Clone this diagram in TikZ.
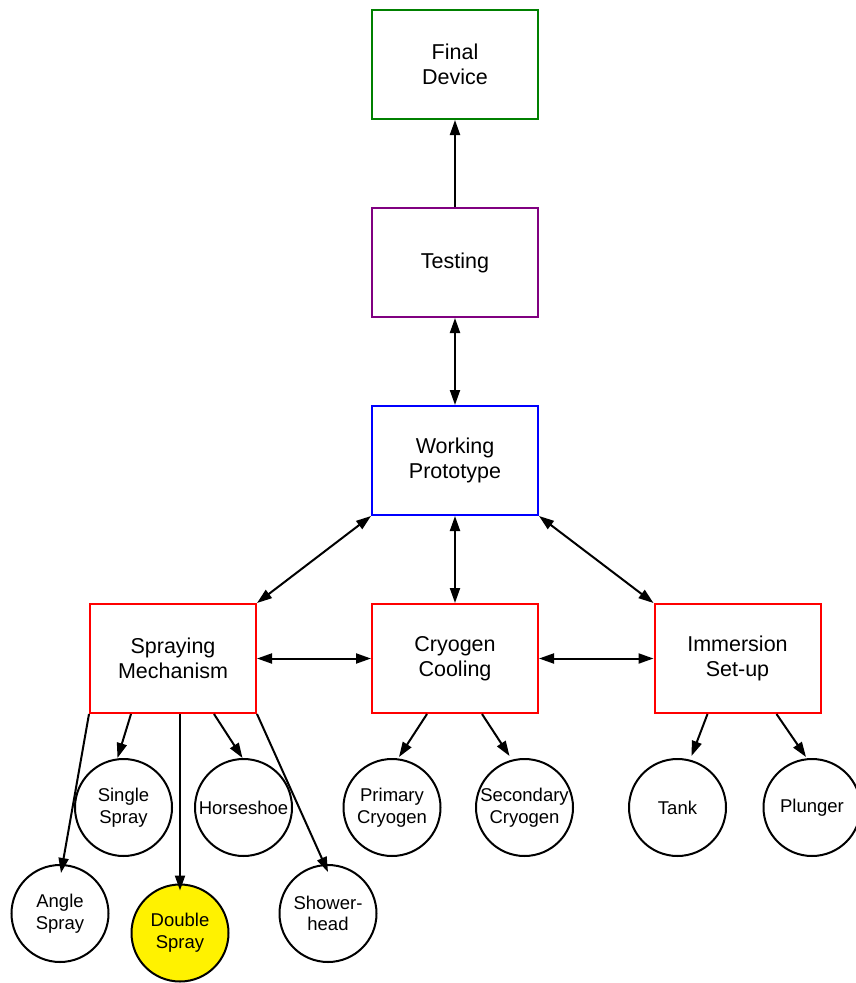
\documentclass[tikz,border=0pt]{standalone}
\usepackage{fontspec}
\setmainfont{Liberation Sans}
\usetikzlibrary{arrows.meta}
\definecolor{dgreen}{RGB}{0,128,0}
\definecolor{dpurple}{RGB}{128,0,128}
\begin{document}
\begin{tikzpicture}[x=1pt,y=-1pt,
  box/.style={rectangle, draw, line width=2pt, minimum width=166pt, minimum height=109pt, inner sep=0pt, align=center, font=\fontsize{21.5}{25.5}\selectfont},
  leaf/.style={circle, draw=black, line width=2pt, minimum size=97pt, inner sep=0pt, align=center, font=\fontsize{18.5}{21.7}\selectfont},
  conn/.style={line width=2pt, -{Triangle[length=15pt,width=10pt]}},
  dconn/.style={line width=2pt, {Triangle[length=15pt,width=10pt]}-{Triangle[length=15pt,width=10pt]}}]
\path[use as bounding box] (0,0) rectangle (856,983);
\begin{scope}
\clip (0,0) rectangle (856,983);
\node[box, draw=dgreen] (final) at (455,64.5) {Final\\Device};
\node[box, draw=dpurple] (test) at (455,262.5) {Testing};
\node[box, draw=blue] (wp) at (455,460.5) {Working\\Prototype};
\node[box, draw=red] (spr) at (173,658.5) {Spraying\\Mechanism};
\node[box, draw=red] (cry) at (455,658.5) {Cryogen\\Cooling};
\node[box, draw=red] (imm) at (737.5,658.5) {Immersion\\Set-up};

\node[leaf] (single) at (123.5,807.5) {Single\\Spray};
\node[leaf] (horse) at (243.5,807.5) {Horseshoe};
\node[leaf] (angle) at (60,913.5) {Angle\\Spray};
\node[leaf, fill=yellow] (dbl) at (180,933) {Double\\Spray};
\node[leaf] (shower) at (328,913.5) {Shower-\\head};
\node[leaf] (prim) at (392,807.5) {Primary\\Cryogen};
\node[leaf] (sec) at (524.5,807.5) {Secondary\\Cryogen};
\node[leaf] (tank) at (677.5,807.5) {Tank};
\node[leaf] (plunger) at (812,807.5) {Plunger};

\draw[conn] (test.north) -- (final.south);
\draw[dconn] (wp.north) -- (test.south);
\draw[dconn] (wp.south west) -- (spr.north east);
\draw[dconn] (wp.south) -- (cry.north);
\draw[dconn] (wp.south east) -- (imm.north west);
\draw[dconn] (spr.east) -- (cry.west);
\draw[dconn] (cry.east) -- (imm.west);

\draw[conn] (spr.south west) -- ([xshift=1pt,yshift=-9pt]angle.north);
\draw[conn] ([xshift=42pt]spr.south west) -- ([xshift=-6pt]single.north);
\draw[conn] ([xshift=91pt]spr.south west) -- ([yshift=-7pt]dbl.north);
\draw[conn] ([xshift=125pt]spr.south west) -- ([xshift=-1pt]horse.north);
\draw[conn] (spr.south east) -- ([yshift=-8pt]shower.north);

\draw[conn] ([xshift=56pt]cry.south west) -- ([xshift=7pt,yshift=1pt]prim.north);
\draw[conn] ([xshift=111pt]cry.south west) -- ([xshift=-15pt,yshift=2pt]sec.north);
\draw[conn] ([xshift=54pt]imm.south west) -- ([xshift=14pt,yshift=2pt]tank.north);
\draw[conn] ([xshift=123pt]imm.south west) -- ([xshift=-6pt,yshift=1pt]plunger.north);
\end{scope}
\end{tikzpicture}
\end{document}
